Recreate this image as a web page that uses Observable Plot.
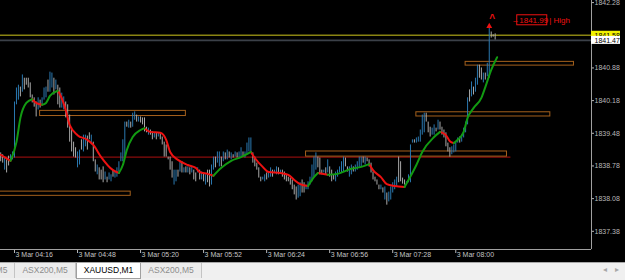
<!DOCTYPE html>
<html><head><meta charset="utf-8">
<script src="https://cdn.jsdelivr.net/npm/d3@7"></script>
<script src="https://cdn.jsdelivr.net/npm/@observablehq/plot@0.6"></script>
<style>
html,body{margin:0;padding:0;background:#000;}
#wrap{position:relative;width:625px;height:280px;overflow:hidden;background:#000;}
#chart svg{display:block;}
#tabs{position:absolute;left:0;top:262px;width:625px;height:18px;background:#f0f0f0;border-top:1px solid #a8a8a8;box-sizing:border-box;font-family:"Liberation Sans",Arial,sans-serif;font-size:8.5px;overflow:hidden;}
#tabrow{position:absolute;left:-45px;top:0;display:flex;height:15px;}
.tab{height:15px;line-height:15px;padding:0 7px;color:#8c8c8c;background:#ececec;border-right:1px solid #c4c4c4;white-space:nowrap;}
.tab.active{background:#fff;color:#000;border-left:1px solid #a0a0a0;border-right:1px solid #a0a0a0;border-bottom:1px solid #a0a0a0;}
.arrow{position:absolute;top:2px;color:#a8a8a8;font-family:"DejaVu Sans",sans-serif;font-size:8px;}
</style></head>
<body><div id="wrap"><div id="chart"></div><div id="tabs"><div id="tabrow"></div><span class="arrow" style="left:603px">◂</span><span class="arrow" style="left:615px">▸</span></div></div>
<script>
// ---- data (XAUUSD, M1, 3 Mar) ----
const startTime = "04:09";
const high = [
1839.06,1839.02,1838.95,1838.91,1838.99,1839.02,1839.08,1840.15,1840.45,1840.51,
1840.47,1840.73,1840.66,1840.66,1840.66,1840.56,1840.30,1840.24,1840.15,1840.24,
1840.19,1840.24,1840.45,1840.47,1840.62,1840.79,1840.77,1840.66,1840.62,1840.51,
1840.45,1840.34,1840.26,1840.15,1840.09,1839.87,1839.59,1839.29,1839.17,1839.08,
1839.12,1839.34,1839.44,1839.44,1839.42,1839.49,1839.44,1839.29,1838.91,1838.80,
1838.74,1838.69,1838.76,1838.65,1838.54,1838.63,1838.59,1838.69,1838.65,1838.74,
1838.87,1839.06,1839.34,1839.72,1839.72,1839.76,1839.72,1839.91,1839.94,1839.87,
1839.83,1839.83,1839.81,1839.81,1839.61,1839.59,1839.55,1839.51,1839.49,1839.49,
1839.49,1839.49,1839.40,1839.29,1839.23,1838.97,1838.97,1838.87,1838.69,1838.69,
1838.69,1838.87,1838.87,1838.74,1838.76,1838.76,1838.74,1838.76,1838.69,1838.63,
1838.74,1838.69,1838.65,1838.63,1838.59,1838.69,1838.69,1838.80,1838.97,1838.97,
1839.08,1839.08,1838.97,1839.08,1839.06,1839.12,1839.08,1839.06,1839.02,1839.08,
1839.06,1839.08,1839.17,1839.08,1839.08,1839.27,1839.38,1839.38,1839.06,1838.97,
1838.84,1838.74,1838.54,1838.54,1838.59,1838.63,1838.63,1838.74,1838.69,1838.69,
1838.76,1838.74,1838.69,1838.69,1838.65,1838.59,1838.54,1838.52,1838.48,1838.37,
1838.33,1838.37,1838.42,1838.48,1838.42,1838.37,1838.44,1838.54,1838.80,1838.97,
1839.06,1838.97,1838.95,1838.69,1838.69,1838.74,1838.91,1838.76,1838.69,1838.59,
1838.65,1838.69,1838.76,1838.87,1838.97,1838.95,1838.76,1838.76,1838.80,1838.76,
1838.80,1838.87,1838.97,1838.97,1838.97,1838.97,1838.95,1838.91,1838.84,1838.65,
1838.54,1838.48,1838.37,1838.37,1838.31,1838.33,1838.20,1838.22,1838.33,1838.42,
1838.48,1838.54,1838.97,1838.87,1838.52,1838.48,1838.44,1838.59,1839.23,1839.34,
1839.34,1839.38,1839.40,1839.55,1839.87,1839.91,1839.91,1839.72,1839.61,1839.59,
1839.66,1839.59,1839.76,1839.72,1839.61,1839.55,1839.49,1839.27,1839.17,1839.19,
1839.23,1839.29,1839.38,1839.40,1839.44,1839.59,1839.72,1840.24,1840.41,1840.58,
1840.47,1840.66,1840.94,1840.94,1840.88,1840.77,1840.77,1840.98,1841.73,1841.65,
1841.59,1841.61];
const low = [
1838.87,1838.84,1838.69,1838.63,1838.78,1838.91,1838.91,1838.95,1840.09,1840.19,
1840.26,1840.36,1840.41,1840.51,1840.45,1840.24,1840.13,1840.04,1839.83,1839.98,
1840.02,1840.09,1840.19,1840.24,1840.36,1840.36,1840.45,1840.30,1840.41,1840.09,
1840.02,1840.02,1839.98,1839.81,1839.59,1839.29,1839.08,1838.97,1838.95,1838.74,
1838.80,1839.12,1839.08,1839.19,1839.12,1839.34,1839.23,1838.87,1838.65,1838.59,
1838.48,1838.48,1838.42,1838.48,1838.42,1838.48,1838.44,1838.54,1838.52,1838.54,
1838.65,1838.87,1838.87,1838.97,1839.61,1839.59,1839.59,1839.61,1839.76,1839.72,
1839.72,1839.70,1839.66,1839.51,1839.49,1839.44,1839.44,1839.34,1839.38,1839.34,
1839.40,1839.34,1839.23,1838.97,1838.97,1838.91,1838.69,1838.52,1838.37,1838.44,
1838.54,1838.65,1838.63,1838.63,1838.63,1838.63,1838.59,1838.63,1838.48,1838.44,
1838.63,1838.48,1838.48,1838.44,1838.37,1838.42,1838.33,1838.37,1838.69,1838.74,
1838.84,1838.76,1838.76,1838.87,1838.91,1838.91,1838.95,1838.91,1838.95,1838.97,
1838.95,1838.95,1838.97,1838.97,1838.95,1839.02,1839.08,1839.06,1838.84,1838.76,
1838.69,1838.52,1838.44,1838.48,1838.44,1838.48,1838.52,1838.54,1838.54,1838.63,
1838.59,1838.59,1838.63,1838.54,1838.48,1838.44,1838.44,1838.37,1838.27,1838.16,
1838.05,1838.09,1838.12,1838.20,1838.20,1838.27,1838.27,1838.37,1838.44,1838.54,
1838.69,1838.74,1838.59,1838.59,1838.63,1838.59,1838.63,1838.54,1838.44,1838.48,
1838.44,1838.54,1838.63,1838.63,1838.65,1838.76,1838.65,1838.54,1838.59,1838.65,
1838.65,1838.69,1838.74,1838.76,1838.84,1838.80,1838.87,1838.76,1838.63,1838.48,
1838.44,1838.37,1838.27,1838.27,1838.20,1838.05,1837.94,1838.01,1838.05,1838.20,
1838.27,1838.33,1838.42,1838.44,1838.39,1838.37,1838.37,1838.42,1838.42,1839.27,
1839.27,1839.27,1839.29,1839.29,1839.44,1839.49,1839.72,1839.49,1839.40,1839.44,
1839.44,1839.51,1839.55,1839.55,1839.44,1839.38,1839.19,1839.08,1838.97,1839.02,
1839.06,1839.08,1839.27,1839.27,1839.29,1839.38,1839.49,1839.66,1840.15,1840.26,
1840.30,1840.36,1840.51,1840.66,1840.62,1840.56,1840.62,1840.69,1840.66,1841.52,
1841.54,1841.48];
// bar direction: u = up (close >= open), d = down
const direction = (
"ddudduuuuu"+"dudddddddu"+"duuuduudud"+"duuddddddu"+"uduudduddu"+
"ddduduuduu"+"uuuududuud"+"udddduddud"+"uddddddduu"+"dududududd"+
"udududduud"+"uududududu"+"duuduuuudd"+"ddduuduudu"+"ududdddddd"+
"duudduuuuu"+"udddududdd"+"uuuuudduud"+"uuuududddd"+"dddududuuu"+
"uudddduuuu"+"duuuuudddu"+"ududdddddu"+"uuuduuuudu"+"duudduduud"+
"dd").split("");
// moving average (bar number, value)
const maBar = [0,5,8,10,13,16,18,21,23,25,29,30,33,35,39,44,47,51,57,60,62,64,67,71,73,76,81,84,86,90,95,99,101,105,108,112,117,122,127,129,133,136,142,146,149,152,156,159,161,166,171,178,183,187,189,193,196,200,205,211,214,220,223,226,228,230,232,235,237,240,244,246,249,252];
const maValue = [1839.02,1838.89,1839.29,1839.81,1840.13,1840.21,1840.13,1840.09,1840.13,1840.28,1840.39,1840.32,1839.98,1839.66,1839.44,1839.34,1839.23,1838.97,1838.69,1838.63,1838.80,1839.12,1839.40,1839.55,1839.59,1839.51,1839.49,1839.34,1839.08,1838.91,1838.80,1838.74,1838.65,1838.61,1838.57,1838.74,1838.89,1838.97,1839.08,1838.95,1838.76,1838.65,1838.63,1838.59,1838.48,1838.39,1838.35,1838.54,1838.63,1838.59,1838.61,1838.72,1838.76,1838.82,1838.69,1838.54,1838.39,1838.35,1838.33,1838.80,1839.08,1839.40,1839.51,1839.44,1839.31,1839.27,1839.34,1839.51,1839.81,1840.02,1840.24,1840.47,1840.84,1841.11];
// drawn zones
const zoneFrom   = ["04:29","04:00","06:44","07:40","08:05"];
const zoneTo     = ["05:43","05:15","08:26","08:48","09:00"];
const zoneTop    = [1839.96,1838.23,1839.09,1839.93,1841.01];
const zoneBottom = [1839.85,1838.14,1838.98,1839.84,1840.93];
// horizontal levels
const levelPrice = 1838.97, levelFrom = "04:00", levelTo = "08:28";
const askPrice = 1841.58, bidPrice = 1841.47;
const highLabel = "1841.99";
// axes
const xTickLabels = ["04:16","04:48","05:20","05:52","06:24","06:56","07:28","08:00"];
const dateLabel = "3 Mar";
const yTickLabels = [1837.38,1838.08,1838.78,1839.48,1840.18,1840.88,1842.28];
const tabNames = ["ASX200,M5","ASX200,M5","XAUUSD,M1","ASX200,M5"];
const activeTab = 2;

// ---- build ----
const toMin = s => { const [h, m] = s.split(":").map(Number); return h * 60 + m; };
const fmtMin = v => String(Math.floor(v / 60)).padStart(2, "0") + ":" + String(v % 60).padStart(2, "0");
const t0 = toMin(startTime);
const bars = high.map((h, i) => ({t: t0 + i, high: h, low: low[i], up: direction[i] === "u"}));
const ma = maBar.map((b, k) => ({t: t0 + b, v: maValue[k]}));
const runs = [];
for (let k = 0; k < ma.length - 1; k++) {
  const up = ma[k + 1].v >= ma[k].v;
  if (!runs.length || runs[runs.length - 1].up !== up) runs.push({up, pts: [ma[k]]});
  runs[runs.length - 1].pts.push(ma[k + 1]);
}
const maRows = runs.flatMap((r, j) => r.pts.map(p => ({...p, run: j, up: r.up})));
const zones = zoneFrom.map((f, k) => ({x1: toMin(f), x2: toMin(zoneTo[k]), y1: zoneBottom[k], y2: zoneTop[k]}));
const hiBar = bars.reduce((a, b) => (b.high > a.high ? b : a));
const xDomain = [248.9, 548.9];
const yDomain = [1836.99, 1842.325];
const xMax = xDomain[1];

const RED = "#ee1111", GREEN = "#129a12", UPC = "#2a78b0", DOWNC = "#a9a9a9";
const chart = Plot.plot({
  width: 625, height: 262,
  marginLeft: 0, marginRight: 34, marginTop: 0, marginBottom: 13,
  style: {background: "#000", color: "#b8b8b8", fontFamily: "'Liberation Sans', Arial, sans-serif", fontSize: "7px"},
  x: {domain: xDomain, ticks: xTickLabels.map(toMin), tickFormat: () => "", tickSize: 4, label: null},
  y: {domain: yDomain, axis: "right", ticks: yTickLabels, tickFormat: d => d.toFixed(2), tickSize: 2, tickPadding: 1, label: null},
  marks: [
    Plot.ruleY([askPrice], {stroke: "#8a8412", strokeWidth: 1.6}),
    Plot.ruleY([bidPrice], {stroke: "#3b4048", strokeWidth: 1.8}),
    Plot.ruleY([levelPrice], {x1: toMin(levelFrom), x2: toMin(levelTo), stroke: "#8a0c0c", strokeWidth: 1.2}),
    Plot.rect(zones, {x1: "x1", x2: "x2", y1: "y1", y2: "y2", fill: "none", stroke: "#a4601c", strokeWidth: 1}),
    Plot.ruleX(bars.filter(d => !d.up), {x: "t", y1: "low", y2: "high", stroke: DOWNC, strokeWidth: 1}),
    Plot.ruleX(bars.filter(d => d.up), {x: "t", y1: "low", y2: "high", stroke: UPC, strokeWidth: 1}),
    Plot.line(maRows.filter(d => !d.up), {x: "t", y: "v", z: "run", stroke: RED, strokeWidth: 2, curve: "monotone-x"}),
    Plot.line(maRows.filter(d => d.up), {x: "t", y: "v", z: "run", stroke: GREEN, strokeWidth: 2, curve: "monotone-x"}),
    // high marker and label
    Plot.dot([hiBar], {x: "t", y: "high", symbol: "triangle", r: 2.2, fill: RED, dy: -2}),
    Plot.text([hiBar], {x: "t", y: "high", text: () => "^", dy: -9, dx: 3, fill: RED, fontSize: 10, fontWeight: "bold"}),
    Plot.text([hiBar], {x: "t", y: "high", text: () => "–", dx: 24, dy: -8, fill: RED, fontSize: 8, textAnchor: "start"}),
    Plot.rect([hiBar], {x1: "t", x2: "t", y1: "high", y2: "high", insetLeft: 28, insetRight: -58, insetTop: -13, insetBottom: 3, fill: "none", stroke: RED, strokeWidth: 1}),
    Plot.text([hiBar], {x: "t", y: "high", text: () => highLabel, dx: 30, dy: -8, fill: RED, fontSize: 8, textAnchor: "start"}),
    Plot.text([hiBar], {x: "t", y: "high", text: () => "| High", dx: 60, dy: -8, fill: RED, fontSize: 8, textAnchor: "start"}),
    // frame lines
    Plot.ruleY([yDomain[0]], {stroke: "#a0a0a0"}),
    Plot.ruleX([xMax], {stroke: "#a0a0a0"}),
    // time labels
    Plot.text(xTickLabels, {x: d => toMin(d), frameAnchor: "bottom", dy: 7, dx: 1, textAnchor: "start", text: d => dateLabel + " " + d, fill: "#c4c4c4", fontSize: 7}),
    // price tags
    Plot.rect([askPrice], {x1: () => xMax, x2: () => xMax, y1: d => d, y2: d => d, insetRight: -29, insetTop: -4, insetBottom: -4, fill: "#f2f200"}),
    Plot.text([askPrice], {x: () => xMax, y: d => d, dx: 3, textAnchor: "start", text: d => d.toFixed(2), fill: "#000", fontSize: 7}),
    Plot.rect([bidPrice], {x1: () => xMax, x2: () => xMax, y1: d => d, y2: d => d, insetRight: -29, insetTop: -4, insetBottom: -4, fill: "#ffffff"}),
    Plot.text([bidPrice], {x: () => xMax, y: d => d, dx: 3, textAnchor: "start", text: d => d.toFixed(2), fill: "#000", fontSize: 7})
  ]
});
document.getElementById("chart").appendChild(chart);

const row = document.getElementById("tabrow");
tabNames.forEach((n, k) => {
  const el = document.createElement("div");
  el.className = "tab" + (k === activeTab ? " active" : "");
  el.textContent = n;
  row.appendChild(el);
});
</script>
</body></html>
